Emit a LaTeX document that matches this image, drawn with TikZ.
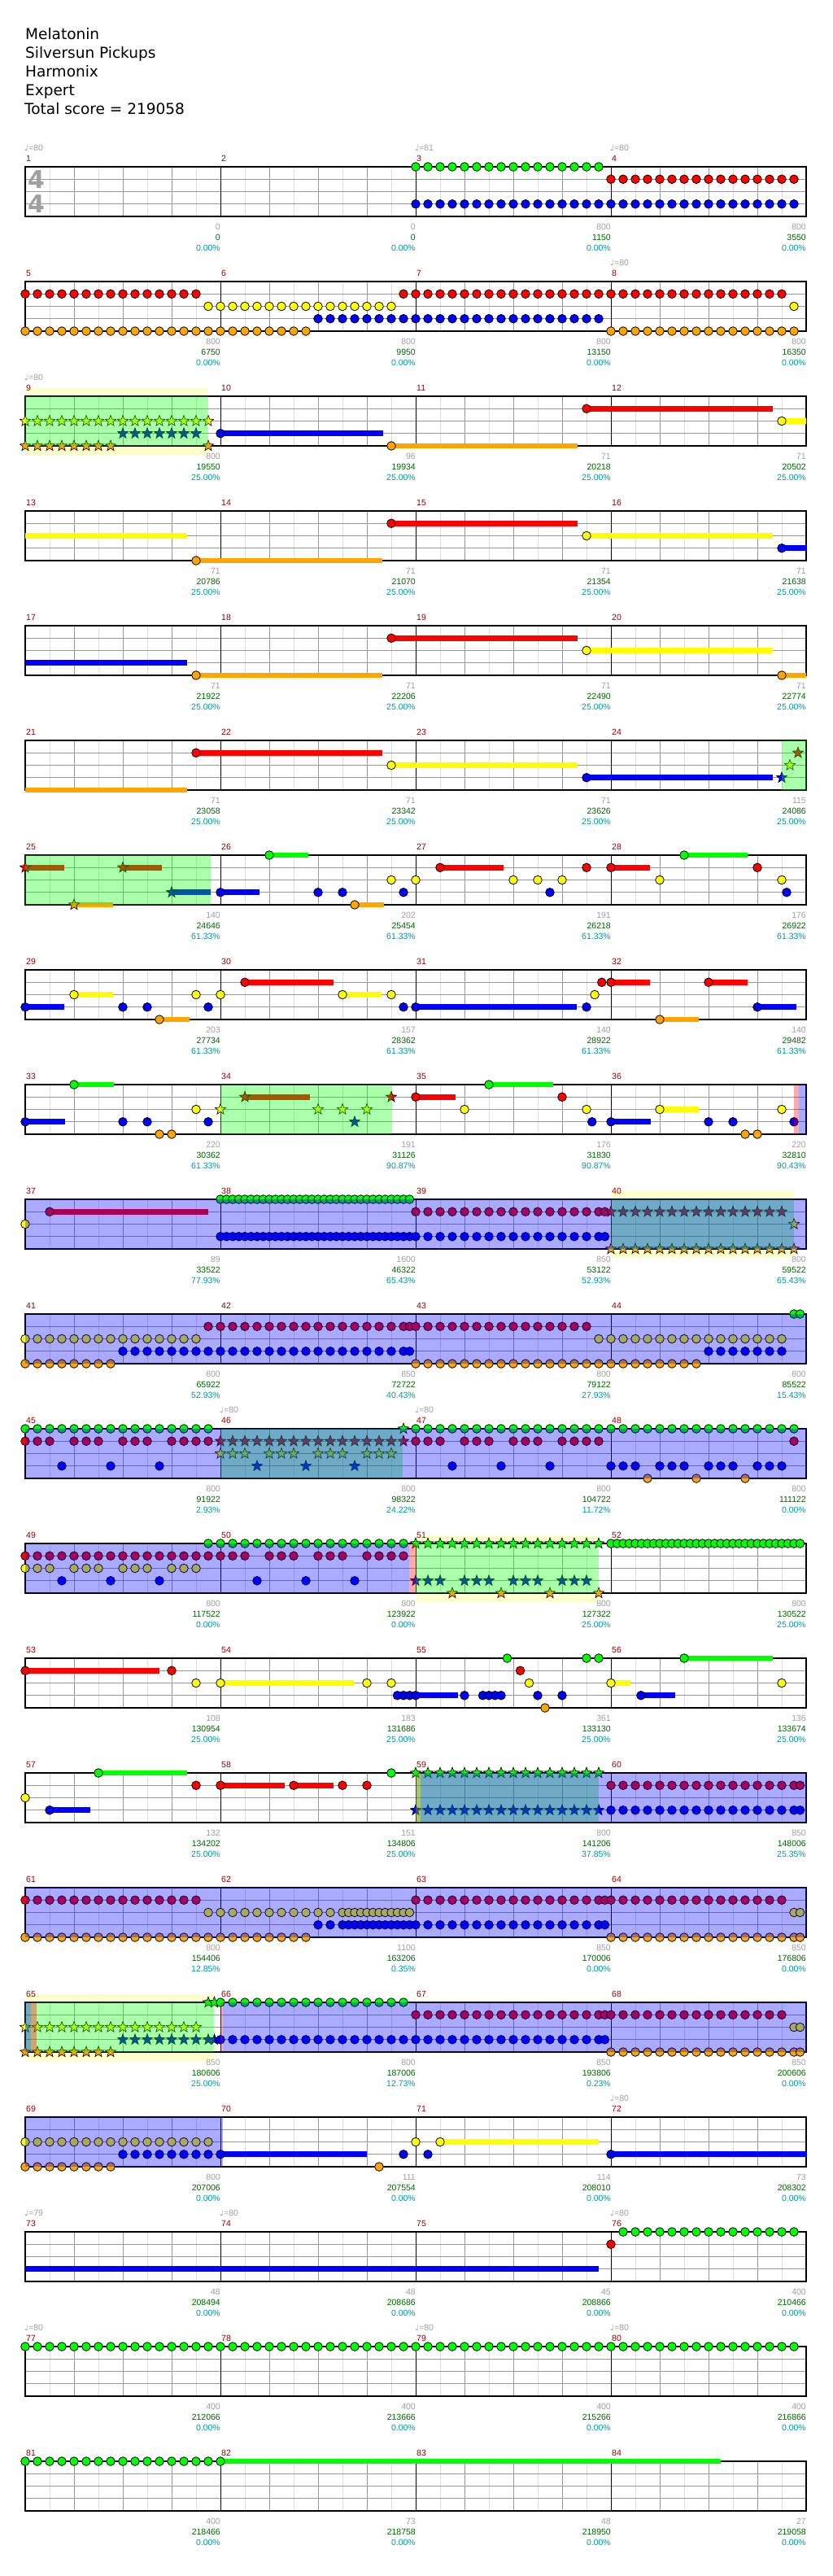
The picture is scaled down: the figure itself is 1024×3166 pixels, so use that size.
\documentclass[tikz,border=0pt]{standalone}
\usepackage{fontspec}
\setmainfont{DejaVu Sans}
\newfontfamily\libsans{Liberation Sans}
\definecolor{gG}{HTML}{00FF00}
\definecolor{gR}{HTML}{FF0000}
\definecolor{gY}{HTML}{FFFF00}
\definecolor{gB}{HTML}{0000FF}
\definecolor{gO}{HTML}{FFA500}
\definecolor{mnumc}{HTML}{990000}
\definecolor{grayc}{HTML}{A0A0A0}
\definecolor{scorec}{HTML}{006600}
\definecolor{pctc}{HTML}{009999}
\definecolor{gridd}{HTML}{999999}
\definecolor{gridl}{HTML}{DDDDDD}
\definecolor{paley}{HTML}{FFFFCC}
\newcommand\XY[3]{\pgfmathsetmacro\gx{31+240*mod(#1-1,4)+15*(#2)}\pgfmathsetmacro\gy{205+141*floor((#1-1)/4)+15.25*(#3)}}
\newcommand\NT[4]{\foreach \tk in {#2}{\XY{#1}{\tk}{#3}\filldraw[fill=#4,draw=black,line width=0.8pt] (\gx,\gy) circle (5.3pt);}}
\newcommand\SR[4]{\foreach \tk in {#2}{\XY{#1}{\tk}{#3}\filldraw[fill=#4,draw=black,line width=0.6pt,shift={(\gx,\gy)}] (90:7pt) -- (126:2.9pt) -- (162:7pt) -- (198:2.9pt) -- (234:7pt) -- (270:2.9pt) -- (306:7pt) -- (342:2.9pt) -- (18:7pt) -- (54:2.9pt) -- cycle;}}
\newcommand\SU[5]{\XY{#1}{#2}{#4}\pgfmathsetmacro\gxb{31+240*mod(#1-1,4)+15*(#3)}\fill[#5] (\gx,\gy-3.3) rectangle (\gxb,\gy+3.3);}
\newcommand\OV[4]{\pgfmathsetmacro\ty{205+141*(#1)}\fill[#4,fill opacity=0.333] (#2,\ty) rectangle (#3,\ty+61);}
\newcommand\YB[3]{\pgfmathsetmacro\ty{205+141*(#1)}\fill[paley] (#2,\ty-10) rectangle (#3,\ty);\fill[paley] (#2,\ty+61) rectangle (#3,\ty+72);}
\begin{document}
\begin{tikzpicture}[x=1pt,y=-1pt,
  titletext/.style={anchor=base west,inner sep=0pt,font=\fontsize{18.5}{22}\selectfont},
  mnum/.style={anchor=base west,inner sep=0pt,text=mnumc,font=\libsans\fontsize{10.5}{12}\selectfont},
  numg/.style={anchor=base east,inner sep=0pt,text=grayc,font=\libsans\fontsize{10.5}{12}\selectfont},
  nums/.style={anchor=base east,inner sep=0pt,text=scorec,font=\libsans\fontsize{10.5}{12}\selectfont},
  nump/.style={anchor=base east,inner sep=0pt,text=pctc,font=\libsans\fontsize{10.5}{12}\selectfont},
  tempo/.style={anchor=base west,inner sep=0pt,text=grayc,font=\fontsize{10.5}{12}\selectfont},
  tsig/.style={inner sep=0pt,text=grayc,font=\bfseries\fontsize{30}{30}\selectfont}]
\useasboundingbox (0,0) rectangle (1024,3166);
\fill[white] (0,0) rectangle (1024,3166);
% title
\node[titletext] (t1) at (31,49) {Melatonin};
\node[titletext] (t2) at (31,72) {Silversun Pickups};
\node[titletext] (t3) at (31,95) {Harmonix};
\node[titletext] (t4) at (31,118) {Expert};
\node[titletext] (t5) at (30,141) {Total score = 219058};
% yellow bands
\YB{2}{31}{256}
\YB{9}{751}{976}
\YB{12}{511}{735.6}
\YB{16}{31}{263}
% grid
\foreach \r in {0,...,20}{
  \pgfmathsetmacro\ty{205+141*\r}
  \foreach \k in {1,3,...,31}{\draw[gridl,line width=1pt] (31+30*\k,\ty) -- ++(0,61);}
  \foreach \j in {1,2,3}{\draw[gridd,line width=1pt] (31,\ty+15.25*\j) -- (991,\ty+15.25*\j);}
  \foreach \k in {2,4,6,10,12,14,18,20,22,26,28,30}{\draw[gridd,line width=1pt] (31+30*\k,\ty) -- ++(0,61);}
  \foreach \k in {8,16,24}{\draw[black,line width=1pt] (31+30*\k,\ty) -- ++(0,61);}
  \draw[black,line width=1.3pt] (31,\ty) rectangle (991,\ty+61);
}
% time signature
\node[tsig] (ts1) at (44.5,221) {4};
\node[tsig] (ts2) at (44.5,251) {4};
% measure numbers
\foreach \m in {1,...,84}{
  \pgfmathsetmacro\mx{31+240*mod(\m-1,4)}
  \pgfmathsetmacro\ty{205+141*floor((\m-1)/4)}
  \node[mnum] (mn\m) at (\mx+1,\ty-7) {\m};
}
% tempo
\foreach \m/\b in {1/80,3/81,4/80,8/80,9/80,46/80,47/80,72/80,73/79,74/80,76/80,77/80,79/80,80/80}{
  \pgfmathsetmacro\mx{31+240*mod(\m-1,4)}
  \pgfmathsetmacro\ty{205+141*floor((\m-1)/4)}
  \node[tempo] (tp\m) at (\mx-1,\ty-20) {♩{\libsans=\b}};
}
% scores
\foreach \m/\g/\s/\p in {1/0/0/0.00, 2/0/0/0.00, 3/800/1150/0.00, 4/800/3550/0.00,
5/800/6750/0.00, 6/800/9950/0.00, 7/800/13150/0.00, 8/800/16350/0.00,
9/800/19550/25.00, 10/96/19934/25.00, 11/71/20218/25.00, 12/71/20502/25.00,
13/71/20786/25.00, 14/71/21070/25.00, 15/71/21354/25.00, 16/71/21638/25.00,
17/71/21922/25.00, 18/71/22206/25.00, 19/71/22490/25.00, 20/71/22774/25.00,
21/71/23058/25.00, 22/71/23342/25.00, 23/71/23626/25.00, 24/115/24086/25.00,
25/140/24646/61.33, 26/202/25454/61.33, 27/191/26218/61.33, 28/176/26922/61.33,
29/203/27734/61.33, 30/157/28362/61.33, 31/140/28922/61.33, 32/140/29482/61.33,
33/220/30362/61.33, 34/191/31126/90.87, 35/176/31830/90.87, 36/220/32810/90.43,
37/89/33522/77.93, 38/1600/46322/65.43, 39/850/53122/52.93, 40/800/59522/65.43,
41/800/65922/52.93, 42/850/72722/40.43, 43/800/79122/27.93, 44/800/85522/15.43,
45/800/91922/2.93, 46/800/98322/24.22, 47/800/104722/11.72, 48/800/111122/0.00,
49/800/117522/0.00, 50/800/123922/0.00, 51/800/127322/25.00, 52/800/130522/25.00,
53/108/130954/25.00, 54/183/131686/25.00, 55/361/133130/25.00, 56/136/133674/25.00,
57/132/134202/25.00, 58/151/134806/25.00, 59/800/141206/37.85, 60/850/148006/25.35,
61/800/154406/12.85, 62/1100/163206/0.35, 63/850/170006/0.00, 64/850/176806/0.00,
65/850/180606/25.00, 66/800/187006/12.73, 67/850/193806/0.23, 68/850/200606/0.00,
69/800/207006/0.00, 70/111/207554/0.00, 71/114/208010/0.00, 72/73/208302/0.00,
73/48/208494/0.00, 74/48/208686/0.00, 75/45/208866/0.00, 76/400/210466/0.00,
77/400/212066/0.00, 78/400/213666/0.00, 79/400/215266/0.00, 80/400/216866/0.00,
81/400/218466/0.00, 82/73/218758/0.00, 83/48/218950/0.00, 84/27/219058/0.00}{
  \pgfmathsetmacro\mx{31+240*(mod(\m-1,4)+1)}
  \pgfmathsetmacro\tb{205+141*floor((\m-1)/4)+61}
  \node[numg] (ga\m) at (\mx,\tb+16) {\g};
  \node[nums] (sc\m) at (\mx,\tb+29) {\s};
  \node[nump] (pc\m) at (\mx,\tb+42) {\p\%};
}
% ---- notes ----
% row 0
\NT{3}{0,...,15}{0}{gG}
\NT{3}{0,...,15}{3}{gB}
\NT{4}{0,...,15}{1}{gR}
\NT{4}{0,...,15}{3}{gB}
% row 1
\NT{5}{0,...,14}{1}{gR}
\NT{5}{0,...,15}{4}{gO}
\NT{5}{15}{2}{gY}
\NT{6}{0,...,14}{2}{gY}
\NT{6}{0,...,7}{4}{gO}
\NT{6}{8,...,15}{3}{gB}
\NT{6}{15}{1}{gR}
\NT{7}{0,...,15}{1}{gR}
\NT{7}{0,...,15}{3}{gB}
\NT{8}{0,...,14}{1}{gR}
\NT{8}{15}{2}{gY}
\NT{8}{0,...,15}{4}{gO}
% row 2
\SR{9}{0,...,15}{2}{gY}
\SR{9}{8,...,14}{3}{gB}
\SR{9}{0,...,7}{4}{gO}
\SR{9}{15}{4}{gO}
\SU{10}{0}{13.33}{3}{gB}\NT{10}{0}{3}{gB}
\SU{10}{14}{29.27}{4}{gO}\NT{10}{14}{4}{gO}
\SU{11}{14}{29.27}{1}{gR}\NT{11}{14}{1}{gR}
\SU{12}{14}{16}{2}{gY}\NT{12}{14}{2}{gY}
% row 3
\SU{13}{0}{13.27}{2}{gY}
\SU{13}{14}{29.27}{4}{gO}\NT{13}{14}{4}{gO}
\SU{14}{14}{29.27}{1}{gR}\NT{14}{14}{1}{gR}
\SU{15}{14}{29.27}{2}{gY}\NT{15}{14}{2}{gY}
\SU{16}{14}{16}{3}{gB}\NT{16}{14}{3}{gB}
% row 4
\SU{17}{0}{13.27}{3}{gB}
\SU{17}{14}{29.27}{4}{gO}\NT{17}{14}{4}{gO}
\SU{18}{14}{29.27}{1}{gR}\NT{18}{14}{1}{gR}
\SU{19}{14}{29.27}{2}{gY}\NT{19}{14}{2}{gY}
\SU{20}{14}{16}{4}{gO}\NT{20}{14}{4}{gO}
% row 5
\SU{21}{0}{13.27}{4}{gO}
\SU{21}{14}{29.27}{1}{gR}\NT{21}{14}{1}{gR}
\SU{22}{14}{29.27}{2}{gY}\NT{22}{14}{2}{gY}
\SU{23}{14}{29.27}{3}{gB}\NT{23}{14}{3}{gB}
\SR{24}{14}{3}{gB}\SR{24}{14.67}{2}{gY}\SR{24}{15.33}{1}{gR}
% row 6
\SU{25}{0}{3.2}{1}{gR}\SR{25}{0}{1}{gR}
\SU{25}{8}{11.2}{1}{gR}\SR{25}{8}{1}{gR}
\SU{25}{12}{15.2}{3}{gB}\SR{25}{12}{3}{gB}
\SU{25}{4}{7.2}{4}{gO}\SR{25}{4}{4}{gO}
\SU{26}{0}{3.2}{3}{gB}\NT{26}{0,8,10,15}{3}{gB}
\SU{26}{4}{7.2}{0}{gG}\NT{26}{4}{0}{gG}
\NT{26}{14}{2}{gY}
\SU{26}{11}{13.4}{4}{gO}\NT{26}{11}{4}{gO}
\NT{27}{0,8,10,12}{2}{gY}
\SU{27}{2}{7.2}{1}{gR}\NT{27}{2,14}{1}{gR}
\NT{27}{11}{3}{gB}
\SU{28}{0}{3.2}{1}{gR}\NT{28}{0,12}{1}{gR}
\NT{28}{4,14}{2}{gY}
\NT{28}{14.4}{3}{gB}
\SU{28}{6}{11.2}{0}{gG}\NT{28}{6}{0}{gG}
% row 7
\SU{29}{0}{3.2}{3}{gB}\NT{29}{0,8,10,15}{3}{gB}
\SU{29}{4}{7.2}{2}{gY}\NT{29}{4,14}{2}{gY}
\SU{29}{11}{13.47}{4}{gO}\NT{29}{11}{4}{gO}
\NT{30}{0,14}{2}{gY}
\SU{30}{10}{13.2}{2}{gY}\NT{30}{10}{2}{gY}
\SU{30}{2}{9.27}{1}{gR}\NT{30}{2}{1}{gR}
\NT{30}{15}{3}{gB}
\SU{31}{0}{13.23}{3}{gB}\NT{31}{0,14}{3}{gB}
\NT{31}{14.67}{2}{gY}
\NT{31}{15.25}{1}{gR}
\SU{32}{0}{3.2}{1}{gR}\SU{32}{8}{11.2}{1}{gR}\NT{32}{0,8}{1}{gR}
\SU{32}{4}{7.2}{4}{gO}\NT{32}{4}{4}{gO}
\SU{32}{12}{15.2}{3}{gB}\NT{32}{12}{3}{gB}
% row 8
\SU{33}{0}{3.27}{3}{gB}\NT{33}{0,8,10,15}{3}{gB}
\SU{33}{4}{7.29}{0}{gG}\NT{33}{4}{0}{gG}
\NT{33}{14}{2}{gY}
\NT{33}{11,12}{4}{gO}
\SR{34}{0,8,10,12}{2}{gY}
\SU{34}{2}{7.3}{1}{gR}\SR{34}{2,14}{1}{gR}
\SR{34}{11}{3}{gB}
\SU{35}{0}{3.27}{1}{gR}\NT{35}{0,12}{1}{gR}
\NT{35}{4,14}{2}{gY}
\SU{35}{6}{11.27}{0}{gG}\NT{35}{6}{0}{gG}
\NT{35}{14.45}{3}{gB}
\SU{36}{0}{3.27}{3}{gB}\NT{36}{0,8,10,15}{3}{gB}
\SU{36}{4}{7.2}{2}{gY}\NT{36}{4,14}{2}{gY}
\NT{36}{11,12}{4}{gO}
% row 9
\NT{37}{0}{2}{gY}
\SU{37}{2}{15}{1}{gR}\NT{37}{2}{1}{gR}
\NT{38}{0,0.5,...,15.5}{0}{gG}
\NT{38}{0,0.5,...,15.5}{3}{gB}
\NT{39}{0,...,15}{1}{gR}\NT{39}{15.5}{1}{gR}
\NT{39}{0,...,15}{3}{gB}\NT{39}{15.5}{3}{gB}
\SR{40}{0,...,14}{1}{gR}
\SR{40}{0,...,15}{4}{gO}
\SR{40}{15}{2}{gY}
% row 10
\NT{41}{0,...,14}{2}{gY}
\NT{41}{0,...,7}{4}{gO}
\NT{41}{8,...,15}{3}{gB}
\NT{41}{15}{1}{gR}
\NT{42}{0,...,15}{1}{gR}\NT{42}{15.5}{1}{gR}
\NT{42}{0,...,15}{3}{gB}\NT{42}{15.5}{3}{gB}
\NT{43}{0,...,14}{1}{gR}
\NT{43}{0,...,15}{4}{gO}
\NT{43}{15}{2}{gY}
\NT{44}{0,...,7}{4}{gO}
\NT{44}{0,...,14}{2}{gY}
\NT{44}{8,...,14}{3}{gB}
\NT{44}{15,15.5}{0}{gG}
% row 11
\NT{45}{0,...,15}{0}{gG}
\NT{45}{0,1,2,4,5,6,8,9,10,12,13,14,15}{1}{gR}
\NT{45}{3,7,11}{3}{gB}
\SR{46}{0,...,15}{1}{gR}
\SR{46}{0,1,2,4,5,6,8,9,10,12,13,14}{2}{gY}
\SR{46}{3,7,11}{3}{gB}
\SR{46}{15}{0}{gG}
\NT{47}{0,...,15}{0}{gG}
\NT{47}{0,1,2,4,5,6,8,9,10,12,13,14,15}{1}{gR}
\NT{47}{3,7,11}{3}{gB}
\NT{48}{0,...,15}{0}{gG}
\NT{48}{15}{1}{gR}
\NT{48}{0,1,2,4,5,6,8,9,10,12,13,14}{3}{gB}
\NT{48}{3,7,11}{4}{gO}
% row 12
\NT{49}{0,...,15}{1}{gR}
\NT{49}{0,1,2,4,5,6,8,9,10,12,13,14}{2}{gY}
\NT{49}{3,7,11}{3}{gB}
\NT{49}{15}{0}{gG}
\NT{50}{0,...,15}{0}{gG}
\NT{50}{0,1,2,4,5,6,8,9,10,12,13,14,15}{1}{gR}
\NT{50}{3,7,11}{3}{gB}
\SR{51}{0,...,15}{0}{gG}
\SR{51}{0,1,2,4,5,6,8,9,10,12,13,14}{3}{gB}
\SR{51}{3,7,11,15}{4}{gO}
\NT{52}{0,0.5,...,15.5}{0}{gG}
% row 13
\SU{53}{0}{11}{1}{gR}\NT{53}{0,12}{1}{gR}
\NT{53}{14}{2}{gY}
\SU{54}{0}{10.96}{2}{gY}\NT{54}{0,12,14}{2}{gY}
\NT{54}{14.5,15,15.5}{3}{gB}
\SU{55}{0}{3.45}{3}{gB}\NT{55}{0,4,5.5,6,6.5,7,10,12}{3}{gB}
\NT{55}{7.5,14,15}{0}{gG}
\NT{55}{8.57}{1}{gR}
\NT{55}{9.3}{2}{gY}
\NT{55}{10.6}{4}{gO}
\SU{56}{0}{1.59}{2}{gY}\NT{56}{0,14}{2}{gY}
\SU{56}{2.46}{5.27}{3}{gB}\NT{56}{2.46}{3}{gB}
\SU{56}{6}{13.25}{0}{gG}\NT{56}{6}{0}{gG}
% row 14
\NT{57}{0}{2}{gY}
\SU{57}{2}{5.33}{3}{gB}\NT{57}{2}{3}{gB}
\SU{57}{6}{13.29}{0}{gG}\NT{57}{6}{0}{gG}
\NT{57}{14}{1}{gR}
\SU{58}{0}{5.27}{1}{gR}\SU{58}{6}{9.27}{1}{gR}\NT{58}{0,6,10,12}{1}{gR}
\NT{58}{14}{0}{gG}
\SR{59}{0,...,15}{0}{gG}
\SR{59}{0,...,15}{3}{gB}
\NT{60}{0,...,15}{1}{gR}\NT{60}{15.5}{1}{gR}
\NT{60}{0,...,15}{3}{gB}\NT{60}{15.5}{3}{gB}
% row 15
\NT{61}{0,...,14}{1}{gR}
\NT{61}{0,...,15}{4}{gO}
\NT{61}{15}{2}{gY}
\NT{62}{0,...,7}{4}{gO}
\NT{62}{0,...,9}{2}{gY}
\NT{62}{10,10.5,...,15.5}{2}{gY}
\NT{62}{8,9}{3}{gB}
\NT{62}{10,10.5,...,15.5}{3}{gB}
\NT{63}{0,...,15}{1}{gR}\NT{63}{15.5}{1}{gR}
\NT{63}{0,...,15}{3}{gB}\NT{63}{15.5}{3}{gB}
\NT{64}{0,...,14}{1}{gR}
\NT{64}{0,...,15}{4}{gO}\NT{64}{15.5}{4}{gO}
\NT{64}{15,15.5}{2}{gY}
% row 16
\SR{65}{0,...,14}{2}{gY}
\SR{65}{8,...,15}{3}{gB}\SR{65}{15.5}{3}{gB}
\SR{65}{0,...,7}{4}{gO}
\SR{65}{15,15.5}{0}{gG}
\NT{66}{0,...,15}{0}{gG}
\NT{66}{0,...,15}{3}{gB}
\NT{67}{0,...,15}{1}{gR}\NT{67}{15.5}{1}{gR}
\NT{67}{0,...,15}{3}{gB}\NT{67}{15.5}{3}{gB}
\NT{68}{0,...,14}{1}{gR}
\NT{68}{0,...,15}{4}{gO}\NT{68}{15.5}{4}{gO}
\NT{68}{15,15.5}{2}{gY}
% row 17
\NT{69}{0,...,15}{2}{gY}
\NT{69}{8,...,15}{3}{gB}
\NT{69}{0,...,7}{4}{gO}
\SU{70}{0}{12}{3}{gB}\NT{70}{0,15}{3}{gB}
\NT{70}{13}{4}{gO}
\NT{71}{0}{2}{gY}
\NT{71}{1}{3}{gB}
\SU{71}{2}{14.97}{2}{gY}\NT{71}{2}{2}{gY}
\SU{72}{0}{16}{3}{gB}\NT{72}{0}{3}{gB}
% row 18
\SU{73}{0}{46.97}{3}{gB}
\NT{76}{0}{1}{gR}
\NT{76}{1,...,15}{0}{gG}
% row 19
\NT{77}{0,...,15}{0}{gG}
\NT{78}{0,...,15}{0}{gG}
\NT{79}{0,...,15}{0}{gG}
\NT{80}{0,...,15}{0}{gG}
% row 20
\NT{81}{0,...,15}{0}{gG}
\SU{82}{0}{40.99}{0}{gG}\NT{82}{0}{0}{gG}
% ---- overlays ----
\OV{2}{31}{256}{gG}
\OV{5}{961}{991}{gG}
\OV{6}{31}{259}{gG}
\OV{8}{271}{481}{gG}
\OV{8}{975.8}{982}{gR}
\OV{8}{982}{991}{gB}
\OV{9}{751}{976}{gG}
\OV{9}{31}{991}{gB}
\OV{10}{31}{991}{gB}
\OV{11}{271}{495}{gG}
\OV{11}{31}{991}{gB}
\OV{12}{31}{503}{gB}
\OV{12}{503}{511}{gR}
\OV{12}{511}{735.6}{gG}
\OV{14}{511}{517}{gR}
\OV{14}{511}{735.6}{gG}
\OV{14}{517}{991}{gB}
\OV{15}{31}{991}{gB}
\OV{16}{31}{263}{gG}
\OV{16}{31}{38}{gB}
\OV{16}{38}{45}{gR}
\OV{16}{271}{274}{gR}
\OV{16}{274}{991}{gB}
\OV{17}{31}{274}{gB}
\end{tikzpicture}
\end{document}
